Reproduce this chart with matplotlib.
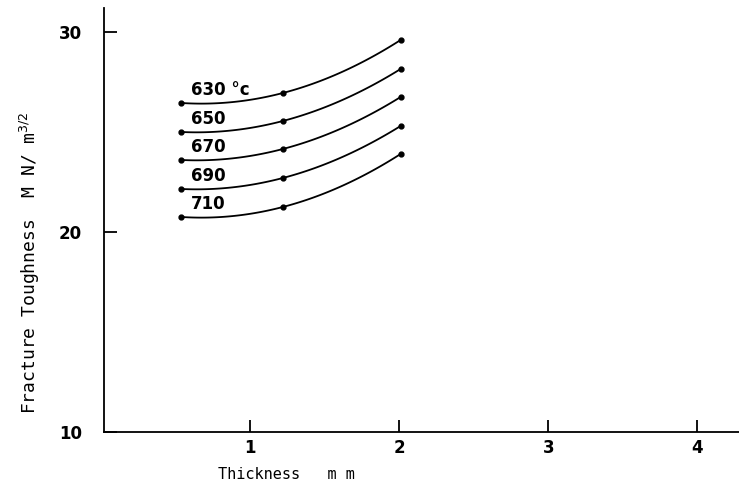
import numpy as np
import matplotlib.pyplot as plt

# thickness (mm) and fracture toughness
thickness = [0.54, 1.22, 2.01]
temps = ['630 \u00b0c', '650', '670', '690', '710']
tough_630 = [26.45, 26.95, 29.6]
tough_650 = [25.0, 25.55, 28.15]
tough_670 = [23.6, 24.15, 26.75]
tough_690 = [22.15, 22.7, 25.3]
tough_710 = [20.75, 21.25, 23.9]
series = [tough_630, tough_650, tough_670, tough_690, tough_710]

xticks = [1, 2, 3, 4]
yticks = [10, 20, 30]

fig = plt.figure(figsize=(7.39, 4.9), dpi=100)
ax = fig.add_axes([0.1407, 0.1184, 0.8593, 0.8653])

xs = np.linspace(thickness[0], thickness[-1], 100)
for label, vals in zip(temps, series):
    # smooth curve through the three measured points
    coef = np.polyfit(thickness, vals, 2)
    ax.plot(xs, np.polyval(coef, xs), color='black', lw=1.3)
    ax.plot(thickness, vals, 'o', color='black', ms=3.5)
    ax.annotate(label, (thickness[0], vals[0]), xytext=(6.5, 6),
                textcoords='offset points', fontsize=12, fontweight='bold',
                ha='left', va='baseline')

ax.set_xlim(0.02, 4.28)
ax.set_ylim(10, 31.2)
ax.set_xticks(xticks)
ax.set_yticks(yticks)
ax.tick_params(axis='x', direction='in', length=9, width=1.3, pad=5,
               labelsize=12)
ax.tick_params(axis='y', direction='in', length=9, width=1.3, pad=16,
               labelsize=12)
for lab in ax.get_xticklabels() + ax.get_yticklabels():
    lab.set_fontweight('bold')

ax.spines['top'].set_visible(False)
ax.spines['right'].set_visible(False)
ax.spines['left'].set_linewidth(1.3)
ax.spines['bottom'].set_linewidth(1.3)

ax.set_xlabel('Thickness   m m', fontsize=11, family='DejaVu Sans Mono')
ax.xaxis.set_label_coords(0.287, -0.082)
ax.set_ylabel('Fracture Toughness  M N/ m$^{3/2}$', fontsize=13,
              family='DejaVu Sans Mono')
ax.yaxis.set_label_coords(-0.098, 0.40)

fig.savefig('out.png', dpi=100)
